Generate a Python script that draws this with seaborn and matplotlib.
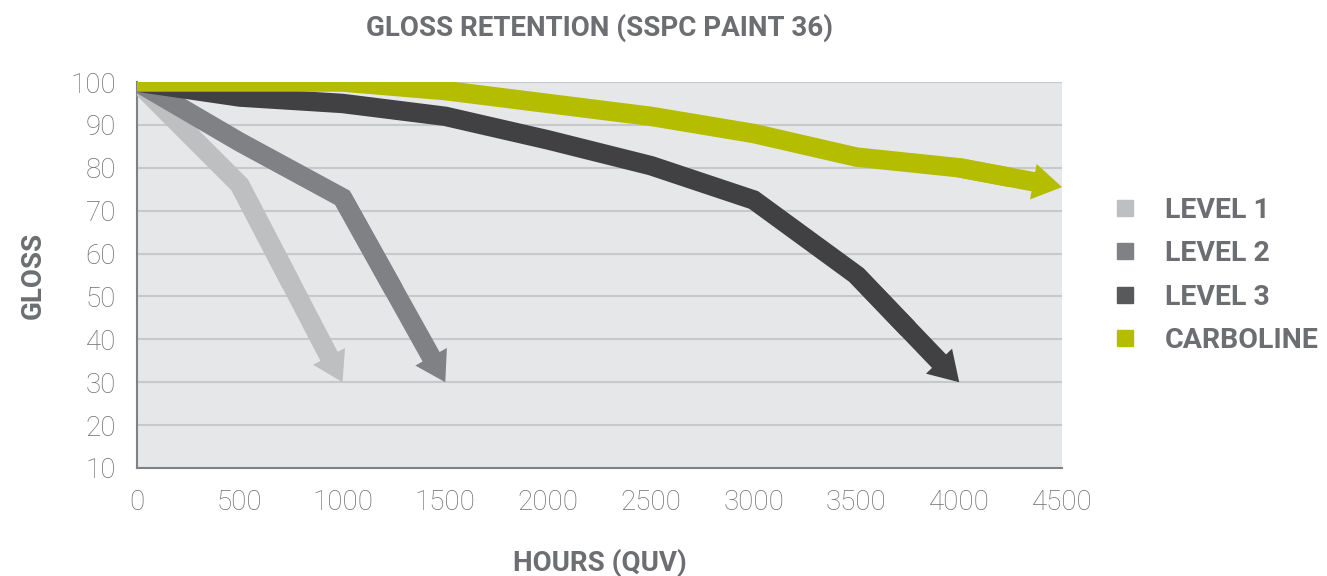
import numpy as np
import pandas as pd
import matplotlib
matplotlib.use("Agg")
import matplotlib.pyplot as plt
from matplotlib.lines import Line2D
import seaborn as sns

# values
series_names = ["LEVEL 1", "LEVEL 2", "LEVEL 3", "CARBOLINE"]
level1_hours = [0, 500, 1000]
level1_gloss = [100, 76, 30]
level2_hours = [0, 500, 1000, 1500]
level2_gloss = [100, 86, 73, 30]
level3_hours = [0, 500, 1000, 1500, 2000, 2500, 3000, 3500, 4000]
level3_gloss = [100, 96.5, 95, 92, 86.5, 80.5, 72.5, 55, 30]
carb_hours = [0, 500, 1000, 1500, 2000, 2500, 3000, 3500, 4000, 4500]
carb_gloss = [100, 100, 100, 98, 95, 92, 88, 82.5, 80, 75.5]

line_colors = ["#BEBFC1", "#808184", "#414143", "#B5BD00"]
legend_colors = ["#BEBFC1", "#808184", "#58595B", "#B5BD00"]
text_color = "#6D6E71"

sns.set_style("white")
plt.rcParams["font.family"] = ["Roboto", "DejaVu Sans"]

fig = plt.figure(figsize=(13.27, 5.76), dpi=100)
ax = fig.add_axes([0.1032, 0.1875, 0.6971, 0.6701])
ax.set_facecolor("#E6E7E8")

all_series = [
    (level1_hours, level1_gloss),
    (level2_hours, level2_gloss),
    (level3_hours, level3_gloss),
    (carb_hours, carb_gloss),
]

lw = 14
for (hrs, gls), name, col in zip(all_series, series_names, line_colors):
    # line runs to the middle of the last segment, the arrow covers the rest
    mid_x = (hrs[-2] + hrs[-1]) / 2
    mid_y = (gls[-2] + gls[-1]) / 2
    df = pd.DataFrame({"hours": list(hrs[:-1]) + [mid_x],
                       "gloss": list(gls[:-1]) + [mid_y]})
    sns.lineplot(data=df, x="hours", y="gloss", ax=ax, color=col, lw=lw,
                 solid_joinstyle="miter", solid_capstyle="butt", zorder=3)
    ax.annotate("", xy=(hrs[-1], gls[-1]), xytext=(hrs[-2], gls[-2]),
                annotation_clip=False, zorder=3,
                arrowprops=dict(arrowstyle="simple,head_length=2.1,head_width=2.6,tail_width=1.4",
                                mutation_scale=10, color=col, lw=0,
                                shrinkA=0, shrinkB=0))

ax.set_xlim(0, 4500)
ax.set_ylim(10, 100)
ax.set_xticks(np.arange(0, 4501, 500))
ax.set_yticks(np.arange(10, 101, 10))
ax.yaxis.grid(True, color="#C7C8CA", lw=1.5, zorder=0)
ax.set_axisbelow(True)
for s in ["top", "right"]:
    ax.spines[s].set_visible(False)
for s in ["left", "bottom"]:
    ax.spines[s].set_color("#808184")
    ax.spines[s].set_linewidth(1.5)
ax.tick_params(axis="x", length=5, width=1, color="#808184", direction="out",
               labelsize=20, labelcolor=text_color, pad=10)
ax.tick_params(axis="y", length=0, labelsize=20, labelcolor=text_color, pad=15)
for lab in ax.get_xticklabels() + ax.get_yticklabels():
    lab.set_fontweight("light")

ax.set_xlabel("HOURS (QUV)", fontsize=20, fontweight="bold", color=text_color, labelpad=24)
ax.set_ylabel("GLOSS", fontsize=20, fontweight="bold", color=text_color, labelpad=17)
fig.text(0.4518, 0.951, "GLOSS RETENTION (SSPC PAINT 36)", ha="center", va="center",
         fontsize=20, fontweight="bold", color=text_color)

handles = [Line2D([0], [0], marker="s", ls="none", markersize=11.5,
                  markerfacecolor=c, markeredgecolor=c) for c in legend_colors]
leg = fig.legend(handles, series_names, loc="center left",
                 bbox_to_anchor=(0.818, 0.522), frameon=False,
                 prop={"size": 20.5, "weight": "bold"}, labelspacing=0.58,
                 handletextpad=0.9, handlelength=1.0)
for t in leg.get_texts():
    t.set_color(text_color)

fig.savefig("out.png", dpi=100)
